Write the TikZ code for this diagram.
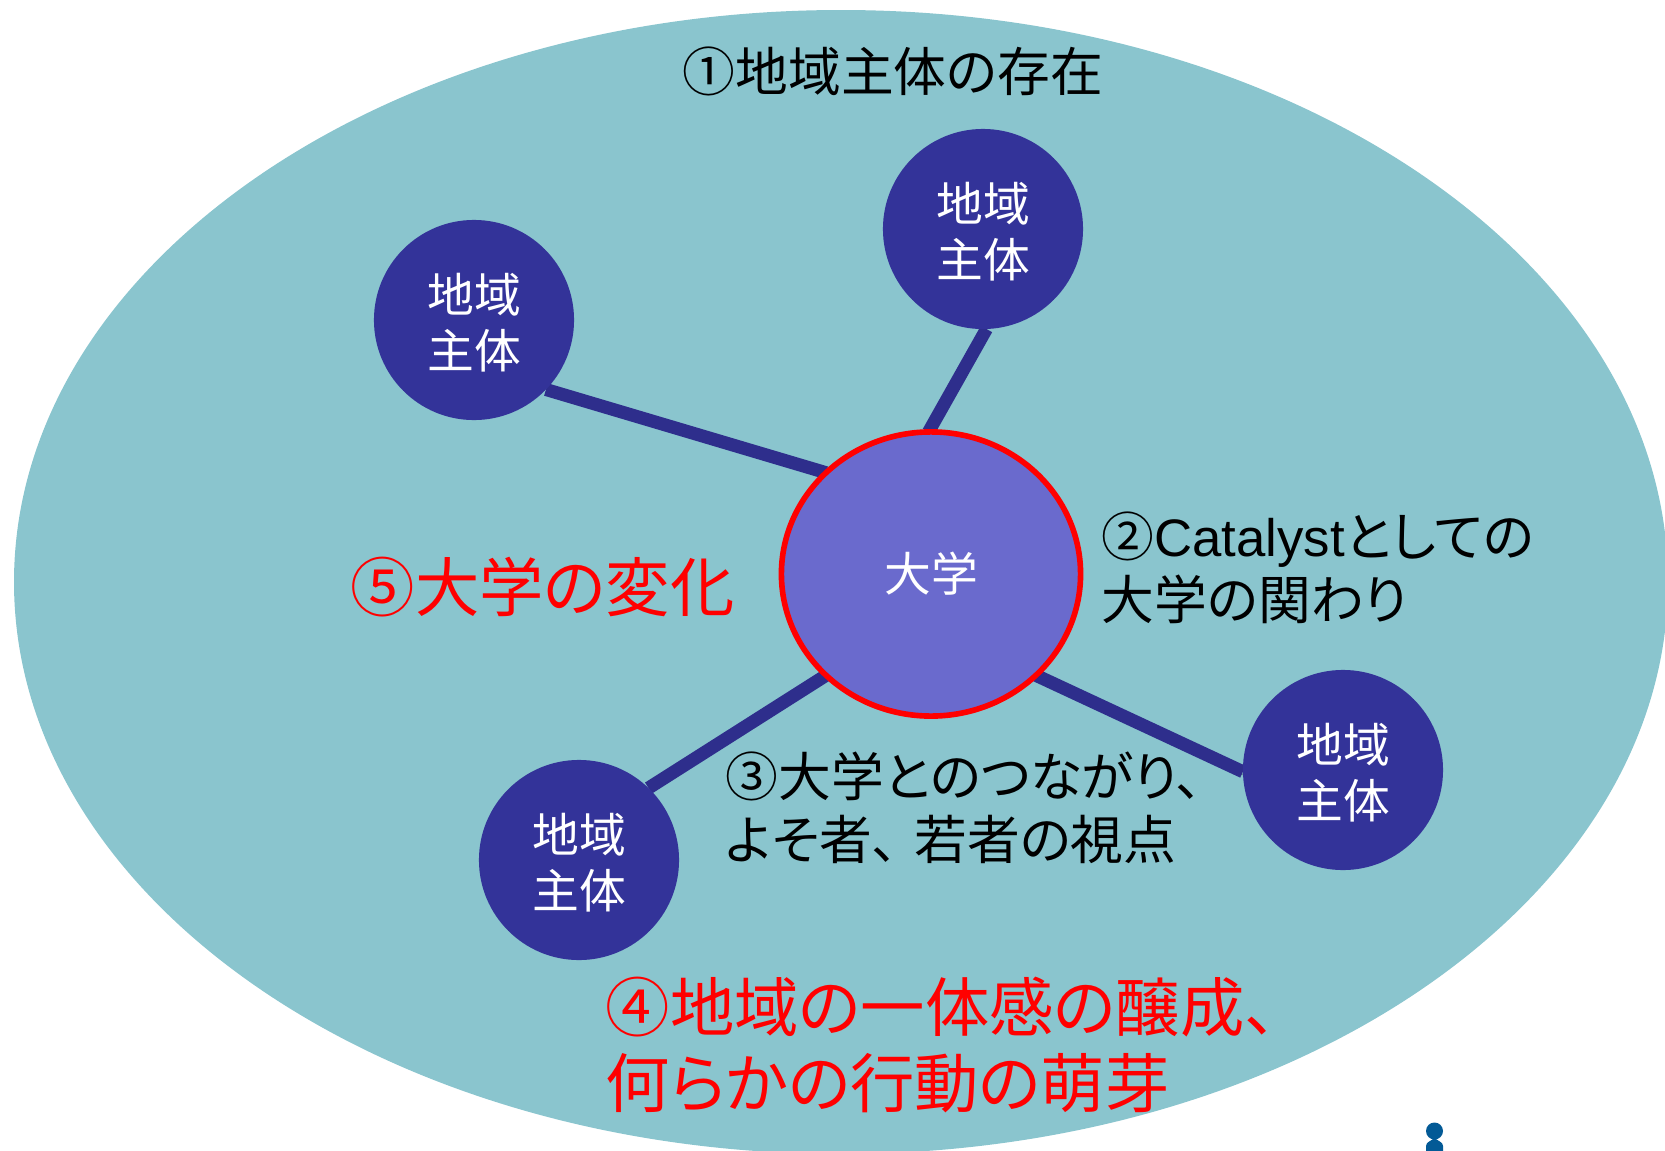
\documentclass[tikz,border=0pt]{standalone}
\usepackage{fontspec}
\setmainfont[RawFeature=+palt]{Noto Sans CJK JP}
\newfontfamily\latinfont{Liberation Sans}
\usetikzlibrary{backgrounds,shapes.geometric}
\definecolor{fieldcol}{HTML}{8AC5CE}
\definecolor{actorcol}{HTML}{333399}
\definecolor{linkcol}{HTML}{2E2E8C}
\definecolor{univcol}{HTML}{6A6ACD}
\definecolor{figcol}{HTML}{035A96}
\newcommand{\actorlabel}[0] {\raisebox{-2.7pt}[\height][\depth]{\begin{tabular}{@{}c@{}}地域\\主体\end{tabular}}}
\tikzset{
    actor/.style={shape=circle,fill=actorcol,text=white,minimum size=2cm,inner sep=0,outer sep=0,font=\fontsize{13.3}{16}\selectfont},
    univ/.style={shape=ellipse,fill=univcol,draw=red,line width=1.6pt,text=white,minimum width=2.99cm,minimum height=2.84cm,inner sep=0,outer sep=0,font=\fontsize{13.3}{16}\selectfont},
    note/.style={anchor=west,inner sep=0,align=left,font=\fontsize{15}{18}\selectfont},
    bignote/.style={anchor=west,inner sep=0,align=left,text=red,font=\fontsize{18.3}{21.7}\selectfont},
    link/.style={draw=linkcol,line width=3.7pt,preaction={draw=black,opacity=.25,transform canvas={yshift=-0.8pt}}}
}

\begin{document}
\begin{tikzpicture}[x=0.01cm,y=-0.01cm]
        \useasboundingbox (0,0) rectangle (1665,1151);
        %university and the actors around it
        \node[univ] (u) at (931,574) {大学};
        \node[actor] (a) at (474,320)  {\actorlabel};
        \node[actor] (b) at (983,229)  {\actorlabel};
        \node[actor] (c) at (1343,770) {\actorlabel};
        \node[actor] (d) at (579,860)  {\actorlabel};
        %labels
        \node[note,anchor=center] (t1) at (893,71) {①地域主体の存在};
        \node[note] (t2) at (1101,568) {②{\latinfont Catalyst}としての\\大学の関わり};
        \node[note] (t3) at (725,808) {③大学とのつながり、\\よそ者、\hspace{0.3em}若者の視点};
        \node[bignote] (t4) at (605,1045) {④地域の一体感の醸成、\\何らかの行動の萌芽};
        \node[bignote] (t5) at (350,587) {⑤大学の変化};
        %field and connections between
        \begin{pgfonlayer}{background}
            \begin{scope}
                \clip (0,0) rectangle (1665,1151);
                \fill[fieldcol] (841,582) ellipse (827 and 572);
                \fill[figcol] (1434.5,1131) circle (8.5);
                \fill[figcol] (1426,1151) -- (1426,1146) .. controls (1426,1142) and (1431,1141) .. (1434.5,1138) .. controls (1438,1141) and (1443,1142) .. (1443,1146) -- (1443,1151) -- cycle;
            \end{scope}
            \path[link] (a.-44) -- (u.136);
            \path[link] (b.-88) -- (u.91);
            \path[link] (d.46) -- (u.224);
            \path[link] (c.181) -- (u.-44);
        \end{pgfonlayer}
\end{tikzpicture}
\end{document}
